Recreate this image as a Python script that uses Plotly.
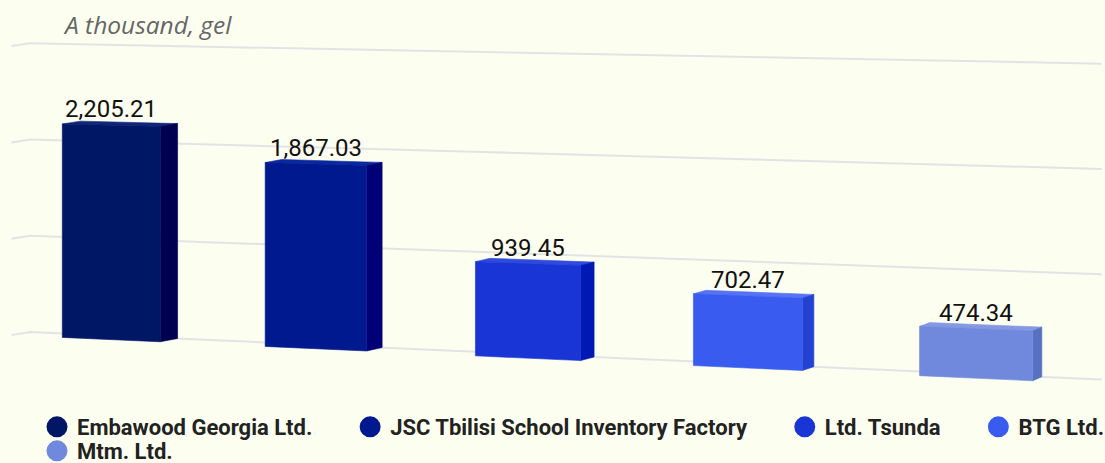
import plotly.graph_objects as go

# ---------------- data ----------------
companies = ["Embawood Georgia Ltd.", "JSC Tbilisi School Inventory Factory",
             "Ltd. Tsunda", "BTG Ltd.", "Mtm. Ltd."]
values = [2205.21, 1867.03, 939.45, 702.47, 474.34]
value_labels = ["2,205.21", "1,867.03", "939.45", "702.47", "474.34"]
grid_values = [0, 1000, 2000, 3000]
axis_title = "A thousand, gel"

# ---------------- style ----------------
front_colors = ["#001766", "#00198F", "#1A35D5", "#3A5BF0", "#7089DC"]
side_colors = ["#000050", "#000077", "#0019B3", "#2243D2", "#5670C2"]
top_colors = ["#10267A", "#0A28A0", "#3049DE", "#5573F4", "#8499E2"]
bg = "#FCFEF0"
grid_color = "#E3E3E6"
LEGEND_PAD = "\u00a0" * 6
legend_rows = ["legend", "legend", "legend", "legend", "legend2"]

W, H = 1105, 463
# mild perspective projection (back plane w=0, front plane w=1)
XL, YH = -11360.0, -172.6
PLANES = {
    0: dict(A=8.7796e-5, B=1.510e-6, k=0.0443, Vh=5245.0),
    1: dict(A=8.7940e-5, B=1.528e-6, k=0.04465, Vh=5270.0),
}
BAR_HALF = 0.2435
N_SLOTS = len(companies)


def proj(u, v, w):
    p = PLANES[w]
    s = 1.0 / (p["A"] - p["B"] * u)
    return XL + s, YH + s * p["k"] * (1.0 - v / p["Vh"])


def poly(pts):
    xs, ys = zip(*[proj(*q) for q in pts])
    return list(xs) + [xs[0]], list(ys) + [ys[0]]


fig = go.Figure()

# gridlines (left wall stub + back wall line)
for gv in grid_values:
    pts = [proj(0, gv, 1), proj(0, gv, 0), proj(N_SLOTS, gv, 0)]
    fig.add_trace(go.Scatter(x=[p[0] for p in pts], y=[p[1] for p in pts],
                             mode="lines", line=dict(color=grid_color, width=2),
                             hoverinfo="skip", showlegend=False))

annotations = []
for i, (name, val, lab) in enumerate(zip(companies, values, value_labels)):
    u0, u1 = i + 0.5 - BAR_HALF, i + 0.5 + BAR_HALF
    faces = [
        ([(u0, val, 1), (u1, val, 1), (u1, val, 0), (u0, val, 0)], top_colors[i]),
        ([(u1, 0, 1), (u1, 0, 0), (u1, val, 0), (u1, val, 1)], side_colors[i]),
        ([(u0, 0, 1), (u1, 0, 1), (u1, val, 1), (u0, val, 1)], front_colors[i]),
    ]
    for pts, col in faces:
        xs, ys = poly(pts)
        fig.add_trace(go.Scatter(x=xs, y=ys, mode="lines", fill="toself",
                                 fillcolor=col, line=dict(color=col, width=0.6),
                                 hoverinfo="skip", showlegend=False))
    lx, ly = proj(i + 0.5, val, 1)
    annotations.append(dict(x=lx, y=ly, xref="x", yref="y", text=lab,
                            showarrow=False, xanchor="center", yanchor="bottom",
                            yshift=0,
                            font=dict(family="Roboto", size=24, color="#111111")))
    # legend entry
    pad = LEGEND_PAD if i < 3 else ""
    fig.add_trace(go.Scatter(x=[None], y=[None], mode="markers", name=name + pad,
                             legend=legend_rows[i],
                             marker=dict(symbol="circle", size=16, color=front_colors[i],
                                         line=dict(color=front_colors[i], width=5))))

annotations.append(dict(x=61, y=6, xref="x", yref="y", text=axis_title,
                        showarrow=False, xanchor="left", yanchor="top",
                        font=dict(family="Open Sans", size=24.5, color="#666666", style="italic")))

legend_font = dict(family="Roboto", size=22, color="#222222", weight="bold")
fig.update_layout(
    width=W, height=H,
    margin=dict(l=0, r=0, t=0, b=0, autoexpand=False),
    paper_bgcolor=bg, plot_bgcolor=bg,
    xaxis=dict(range=[0, W], visible=False, fixedrange=True),
    yaxis=dict(range=[H, 0], visible=False, fixedrange=True),
    annotations=annotations,
    legend=dict(orientation="h", x=37 / W, xanchor="left", y=1 - 406 / H, yanchor="top",
                bgcolor="rgba(0,0,0,0)", font=legend_font),
    legend2=dict(orientation="h", x=37 / W, xanchor="left", y=1 - 430 / H, yanchor="top",
                 bgcolor="rgba(0,0,0,0)", font=legend_font),
    showlegend=True,
)

fig.write_html("out.html")
